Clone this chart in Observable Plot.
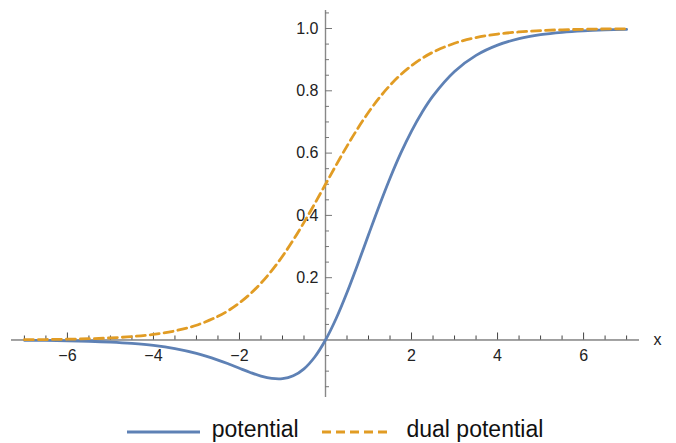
<!DOCTYPE html>
<html>
<head>
<meta charset="utf-8">
<script src="https://cdn.jsdelivr.net/npm/d3@7"></script>
<script src="https://cdn.jsdelivr.net/npm/@observablehq/plot@0.6"></script>
<style>
  body { margin: 0; background: #fff; }
  #chart svg { display: block; }
  #legend { position: relative; width: 676px; height: 35px; font-family: "Liberation Sans", Arial, sans-serif; font-size: 23px; color: #111; overflow: hidden; }
  #legend .sw { position: absolute; top: 19px; }
  #legend .lb { position: absolute; top: 10px; line-height: 23px; white-space: nowrap; }
</style>
</head>
<body>
<div id="chart"></div>
<div id="legend"></div>
<script>
const xs = [-7,-6.5,-6,-5.5,-5,-4.5,-4,-3.5,-3,-2.5,-2.25,-2,-1.75,-1.5,-1.25,-1,-0.75,-0.5,-0.25,0,0.25,0.5,0.75,1,1.25,1.5,1.75,2,2.25,2.5,3,3.5,4,4.5,5,5.5,6,6.5,7];
const potential = [-0.0009,-0.0015,-0.0025,-0.0040,-0.0066,-0.0108,-0.0173,-0.0276,-0.0429,-0.0644,-0.0771,-0.0908,-0.1042,-0.1159,-0.1235,-0.1243,-0.1150,-0.0925,-0.0545,0,0.0699,0.1525,0.2434,0.3378,0.4311,0.5193,0.5997,0.6708,0.7322,0.7839,0.8622,0.9138,0.9467,0.9673,0.9800,0.9878,0.9926,0.9955,0.9973];
const dualPotential = [0.0009,0.0015,0.0025,0.0041,0.0067,0.0110,0.0180,0.0293,0.0474,0.0759,0.0953,0.1192,0.1480,0.1824,0.2227,0.2689,0.3208,0.3775,0.4378,0.5,0.5622,0.6225,0.6792,0.7311,0.7773,0.8176,0.8520,0.8808,0.9047,0.9241,0.9526,0.9707,0.9820,0.9890,0.9933,0.9959,0.9975,0.9985,0.9991];
const seriesNames = ["potential", "dual potential"];
const colors = ["#5E81B5", "#E19C24"];

const xMajor = [-6,-4,-2,2,4,6];
const xLabels = ["\u22126","\u22124","\u22122","2","4","6"];
const yMajor = [0.2,0.4,0.6,0.8,1.0];
const yLabels = ["0.2","0.4","0.6","0.8","1.0"];
const xMinor = d3.range(-14, 15).map(k => k / 2).filter(v => v !== 0 && !xMajor.includes(v));
const yMinor = d3.range(-3, 22).map(k => Math.round(k * 5) / 100).filter(v => v !== 0 && !yMajor.some(m => Math.abs(m - v) < 1e-9));

const potData = xs.map((x, i) => ({x, y: potential[i]}));
const dualData = xs.map((x, i) => ({x, y: dualPotential[i]}));

const font = "'Liberation Sans', Arial, sans-serif";
const plot = Plot.plot({
  width: 676,
  height: 408,
  marginTop: 10,
  marginBottom: 11,
  marginLeft: 11,
  marginRight: 37,
  style: {fontFamily: font, fontSize: "16px", background: "#fff"},
  x: {domain: [-7.3, 7.3], axis: null},
  y: {domain: [-0.1846, 1.0578], axis: null},
  marks: [
    Plot.ruleY([0], {stroke: "#444", strokeWidth: 1}),
    Plot.ruleX([0], {stroke: "#888", strokeWidth: 1.4}),
    Plot.ruleX(xMajor, {x: d => d, y1: 0, y2: 0, insetTop: -7, stroke: "#444"}),
    Plot.ruleX(xMinor, {x: d => d, y1: 0, y2: 0, insetTop: -4, stroke: "#444"}),
    Plot.ruleY(yMajor, {y: d => d, x1: 0, x2: 0, insetRight: -7, stroke: "#777"}),
    Plot.ruleY(yMinor, {y: d => d, x1: 0, x2: 0, insetRight: -4, stroke: "#777"}),
    Plot.text(xMajor, {x: d => d, y: 0, text: (d, i) => xLabels[i], dy: 16, textAnchor: "middle", lineAnchor: "middle", fill: "#222", fontSize: 16}),
    Plot.text(yMajor, {x: 0, y: d => d, text: (d, i) => yLabels[i], dx: -7, textAnchor: "end", lineAnchor: "middle", fill: "#222", fontSize: 16}),
    Plot.text(["x"], {frameAnchor: "right", y: 0, dx: 18, text: d => d, textAnchor: "middle", lineAnchor: "middle", fill: "#222", fontSize: 16}),
    Plot.line(potData, {x: "x", y: "y", stroke: colors[0], strokeWidth: 2.8, curve: "catmull-rom"}),
    Plot.line(dualData, {x: "x", y: "y", stroke: colors[1], strokeWidth: 2.8, strokeDasharray: "9,5", curve: "catmull-rom"})
  ]
});
document.getElementById("chart").appendChild(plot);

const legend = document.getElementById("legend");
const items = [
  {left: 127, label: 211.7, dash: null},
  {left: 322, label: 406.5, dash: "9,5"}
];
items.forEach((it, i) => {
  const sw = document.createElementNS("http://www.w3.org/2000/svg", "svg");
  sw.setAttribute("class", "sw");
  sw.setAttribute("width", 73);
  sw.setAttribute("height", 10);
  sw.style.left = it.left + "px";
  const ln = document.createElementNS("http://www.w3.org/2000/svg", "line");
  ln.setAttribute("x1", 0); ln.setAttribute("x2", i === 0 ? 73 : 68);
  ln.setAttribute("y1", 5); ln.setAttribute("y2", 5);
  ln.setAttribute("stroke", colors[i]);
  ln.setAttribute("stroke-width", 2.8);
  if (it.dash) ln.setAttribute("stroke-dasharray", it.dash);
  sw.appendChild(ln);
  legend.appendChild(sw);
  const lb = document.createElement("span");
  lb.className = "lb";
  lb.style.left = it.label + "px";
  lb.textContent = seriesNames[i];
  legend.appendChild(lb);
});
</script>
</body>
</html>
